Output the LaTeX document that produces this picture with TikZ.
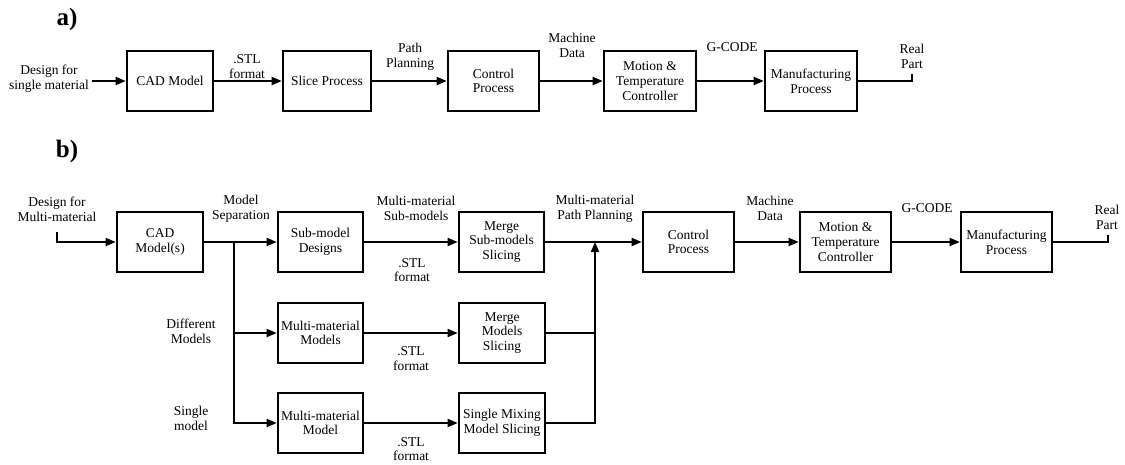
\documentclass[tikz,border=0pt]{standalone}
\usepackage{fontspec}
\setmainfont{Liberation Serif}
\usetikzlibrary{arrows.meta}

\tikzset{
  txt/.style={font=\fontsize{13.5}{14.7}\selectfont},
  blk/.style={txt, draw, line width=2.6pt, inner sep=1pt, align=center,
              minimum height=60pt},
  lbl/.style={txt, align=center, inner sep=0pt},
  wire/.style={line width=1.8pt},
  flow/.style={wire, -{Triangle[length=10pt,width=8pt]}},
  tag/.style={font=\bfseries\fontsize{25}{27}\selectfont, inner sep=0pt}
}

\begin{document}
\begin{tikzpicture}[x=1pt,y=-1pt]
\useasboundingbox (0,0) rectangle (1125,464);

% ---------------- a) single material chain ----------------
\node[tag] (ta) at (67,19) {a)};

\node[blk, minimum width=86pt] (cada) at (170,81) {CAD Model};
\node[blk, minimum width=88pt] (slica) at (327,81) {Slice Process};
\node[blk, minimum width=91pt] (ctrla) at (493.5,81) {Control\\Process};
\node[blk, minimum width=92pt] (mota) at (650,81) {Motion \&\\Temperature\\Controller};
\node[blk, minimum width=92pt] (mana) at (811,81) {Manufacturing\\Process};

\coordinate (ina) at (92,81);
\coordinate (outa) at (912,74);

\draw[flow] (ina) -- (cada.west);
\draw[flow] (cada.east) -- (slica.west);
\draw[flow] (slica.east) -- (ctrla.west);
\draw[flow] (ctrla.east) -- (mota.west);
\draw[flow] (mota.east) -- (mana.west);
\draw[wire] (mana.east) -| (outa);

\node[lbl] (lina) at (49,78.5) {Design for\\single material};
\node[lbl] (l1a) at (247,66.5) {.STL\\format};
\node[lbl] (l2a) at (410,56.5) {Path\\Planning};
\node[lbl] (l3a) at (572,45.5) {Machine\\Data};
\node[lbl] (l4a) at (732,47) {G-CODE};
\node[lbl] (louta) at (912,56.5) {Real\\Part};

% ---------------- b) multi-material chain ----------------
\node[tag] (tb) at (67,151) {b)};

% main row
\node[blk, minimum width=86pt] (cadb) at (160,242) {CAD\\Model(s)};
\node[blk, minimum width=85pt] (subd) at (320.5,242) {Sub-model\\Designs};
\node[blk, minimum width=85pt] (msub) at (501.5,242) {Merge\\Sub-models\\Slicing};
\node[blk, minimum width=91pt] (ctrlb) at (688.5,242) {Control\\Process};
\node[blk, minimum width=91pt] (motb) at (845.5,242) {Motion \&\\Temperature\\Controller};
\node[blk, minimum width=91pt] (manb) at (1006.5,242) {Manufacturing\\Process};

% second row
\node[blk, minimum width=85pt] (mmods) at (320.5,333) {Multi-material\\Models};
\node[blk, minimum width=86pt] (mmerge) at (502,333) {Merge\\Models\\Slicing};

% third row
\node[blk, minimum width=85pt] (mmod) at (320.5,423) {Multi-material\\Model};
\node[blk, minimum width=86pt] (single) at (502,423) {Single Mixing\\Model Slicing};

% split and merge points
\coordinate (inb) at (57,232);
\coordinate (jtop) at (234,242);
\coordinate (jmid) at (234,333);
\coordinate (mtop) at (595,242);
\coordinate (mmid) at (595,333);
\coordinate (outb) at (1108,235);

\draw[flow] (inb) |- (cadb.west);
\draw[flow] (cadb.east) -- (subd.west);
\draw[flow] (jtop) |- (mmod.west);
\draw[flow] (jmid) -- (mmods.west);

\draw[flow] (subd.east) -- (msub.west);
\draw[flow] (mmods.east) -- (mmerge.west);
\draw[flow] (mmod.east) -- (single.west);

\draw[flow] (single.east) -| (mtop);
\draw[wire] (mmerge.east) -- (mmid);

\draw[flow] (msub.east) -- (ctrlb.west);
\draw[flow] (ctrlb.east) -- (motb.west);
\draw[flow] (motb.east) -- (manb.west);
\draw[wire] (manb.east) -| (outb);

\node[lbl] (linb) at (57,209) {Design for\\Multi-material};
\node[lbl] (lsep) at (241,208.5) {Model\\Separation};
\node[lbl] (lsubm) at (416,208.5) {Multi-material\\Sub-models};
\node[lbl] (lstl1) at (412,270) {.STL\\format};
\node[lbl] (lpath) at (595,208.5) {Multi-material\\Path Planning};
\node[lbl] (lmach) at (770,208.5) {Machine\\Data};
\node[lbl] (lgc) at (927,208) {G-CODE};
\node[lbl] (loutb) at (1107,217.5) {Real\\Part};
\node[lbl] (ldiff) at (191,331.5) {Different\\Models};
\node[lbl] (lsing) at (191,418.5) {Single\\model};
\node[lbl] (lstl2) at (411,358.5) {.STL\\format};
\node[lbl] (lstl3) at (411,449) {.STL\\format};
\end{tikzpicture}
\end{document}
